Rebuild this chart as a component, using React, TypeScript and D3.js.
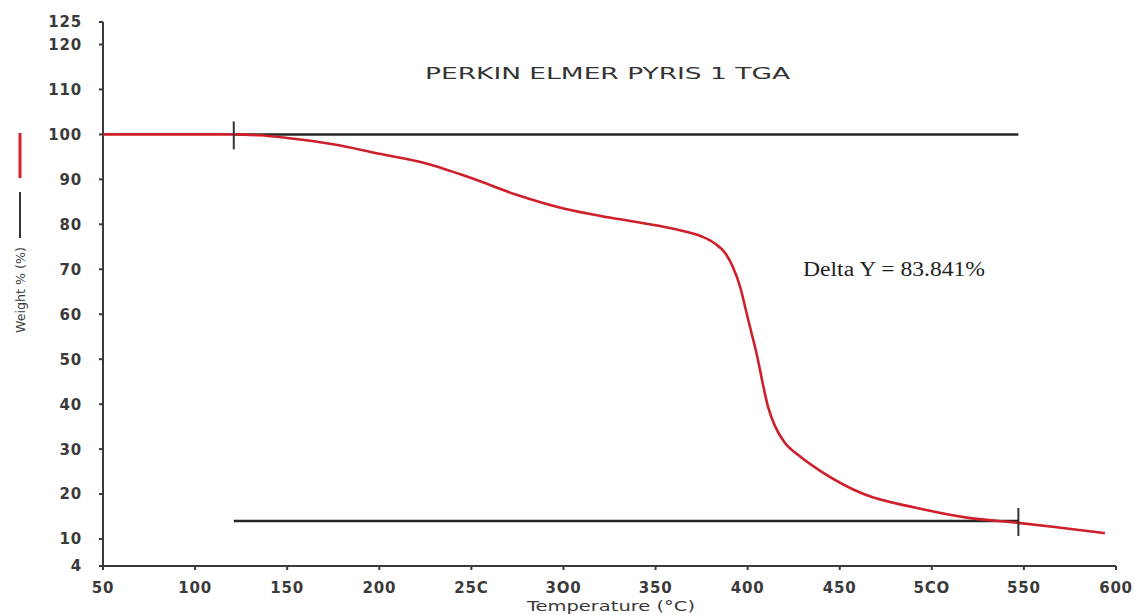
import { useEffect, useRef } from 'react';
import * as d3 from 'd3';

// TGA curve (temperature °C, weight %)
const temps = [50, 100, 120, 135, 150, 175, 200, 225, 250, 275, 300, 325, 350, 365, 375, 382, 388, 392, 396, 399, 402, 405, 408, 411, 415, 420, 428, 440, 463, 492, 520, 547, 570, 594];
const weights = [100, 100, 100, 99.8, 99.2, 97.8, 95.7, 93.6, 90.3, 86.5, 83.5, 81.5, 79.8, 78.5, 77.3, 75.8, 73.5, 70.5, 66, 61, 56, 51, 45, 39.5, 35, 31.5, 28.5, 25, 20, 16.9, 14.7, 13.6, 12.5, 11.3];

const xTicks = [50, 100, 150, 200, 250, 300, 350, 400, 450, 500, 550, 600];
const xTickLabels = ['50', '100', '150', '200', '25C', '3O0', '350', '400', '450', '5CO', '550', '600'];
const yTicks = [4, 10, 20, 30, 40, 50, 60, 70, 80, 90, 100, 110, 120, 125];

// step markers (start / end temperature, upper / lower level)
const stepTemps = [121, 547];
const stepLevels = [100, 14];

const App = () => {
    const svgRef = useRef(null);

    useEffect(() => {
        const width = 1135;
        const height = 615;
        const svg = d3.select(svgRef.current);
        svg.selectAll('*').remove();

        const x = d3.scaleLinear().domain([50, 600]).range([103, 1116]);
        const y = d3.scaleLinear().domain([4, 125]).range([566, 22]);

        const axisColor = '#3a3a3a';
        const font = 'DejaVu Sans, Verdana, sans-serif';
        const labelColor = '#3a3a3a';

        // axes
        svg.append('line')
            .attr('x1', x(50)).attr('x2', x(50))
            .attr('y1', y(4)).attr('y2', y(125))
            .attr('stroke', axisColor).attr('stroke-width', 2);
        svg.append('line')
            .attr('x1', x(50)).attr('x2', x(600))
            .attr('y1', y(4)).attr('y2', y(4))
            .attr('stroke', axisColor).attr('stroke-width', 2);

        yTicks.forEach(t => {
            svg.append('line')
                .attr('x1', x(50) - 4).attr('x2', x(50))
                .attr('y1', y(t)).attr('y2', y(t))
                .attr('stroke', axisColor).attr('stroke-width', 2);
            svg.append('text')
                .attr('x', 82).attr('y', y(t))
                .attr('dy', '0.36em')
                .attr('text-anchor', 'end')
                .attr('fill', labelColor)
                .style('font-family', font)
                .style('font-weight', '600')
                .style('font-size', '15px')
                .style('letter-spacing', '0.8px')
                .text(t);
        });

        xTicks.forEach((t, i) => {
            svg.append('line')
                .attr('x1', x(t)).attr('x2', x(t))
                .attr('y1', y(4)).attr('y2', y(4) + 4)
                .attr('stroke', axisColor).attr('stroke-width', 2);
            svg.append('text')
                .attr('x', x(t)).attr('y', 588)
                .attr('dy', '0.36em')
                .attr('text-anchor', 'middle')
                .attr('fill', labelColor)
                .style('font-family', font)
                .style('font-weight', '600')
                .style('font-size', '15px')
                .style('letter-spacing', '0.8px')
                .text(xTickLabels[i]);
        });

        // axis titles
        svg.append('text')
            .attr('x', 527).attr('y', 606)
            .attr('dy', '0.36em')
            .attr('textLength', 168)
            .attr('lengthAdjust', 'spacingAndGlyphs')
            .attr('fill', labelColor)
            .style('font-family', font)
            .style('font-size', '14px')
            .text('Temperature (°C)');

        svg.append('text')
            .attr('transform', 'translate(20,290) rotate(-90)')
            .attr('dy', '0.36em')
            .attr('text-anchor', 'middle')
            .attr('textLength', 86)
            .attr('lengthAdjust', 'spacingAndGlyphs')
            .attr('fill', labelColor)
            .style('font-family', font)
            .style('font-size', '13px')
            .text('Weight % (%)');

        // legend strokes beside the y title
        svg.append('line')
            .attr('x1', 20).attr('x2', 20).attr('y1', 133).attr('y2', 178)
            .attr('stroke', '#d42331').attr('stroke-width', 3);
        svg.append('line')
            .attr('x1', 20).attr('x2', 20).attr('y1', 192).attr('y2', 238)
            .attr('stroke', '#333').attr('stroke-width', 2);

        // title
        svg.append('text')
            .attr('x', 425).attr('y', 73)
            .attr('dy', '0.36em')
            .attr('textLength', 365)
            .attr('lengthAdjust', 'spacingAndGlyphs')
            .attr('fill', '#333')
            .style('font-family', font)
            .style('font-size', '16px')
            .text('PERKIN ELMER PYRIS 1 TGA');

        // step lines
        stepLevels.forEach(v => {
            svg.append('line')
                .attr('x1', x(stepTemps[0])).attr('x2', x(stepTemps[1]))
                .attr('y1', y(v)).attr('y2', y(v))
                .attr('stroke', '#262626').attr('stroke-width', 2.5);
        });

        // curve
        const pts = temps.map((t, i) => [t, weights[i]]);
        const line = d3.line()
            .x(d => x(d[0]))
            .y(d => y(d[1]))
            .curve(d3.curveMonotoneX);
        svg.append('path')
            .datum(pts)
            .attr('d', line)
            .attr('fill', 'none')
            .attr('stroke', '#cf1f2b')
            .attr('stroke-width', 2.6);

        // step markers
        stepTemps.forEach((t, i) => {
            svg.append('line')
                .attr('x1', x(t)).attr('x2', x(t))
                .attr('y1', y(stepLevels[i]) - 13).attr('y2', y(stepLevels[i]) + 15)
                .attr('stroke', '#333').attr('stroke-width', 2);
        });

        // delta annotation
        svg.append('text')
            .attr('x', 803).attr('y', 276)
            .attr('textLength', 182)
            .attr('lengthAdjust', 'spacingAndGlyphs')
            .attr('fill', '#222')
            .style('font-family', 'Liberation Serif, Times New Roman, serif')
            .style('font-size', '20px')
            .text('Delta Y = 83.841%');

        svg.attr('width', width).attr('height', height);
    }, []);

    return (
        <svg
            ref={svgRef}
            width={1135}
            height={615}
            style={{ position: 'absolute', left: 0, top: 0, background: '#fff' }}
        />
    );
};

export default App;
